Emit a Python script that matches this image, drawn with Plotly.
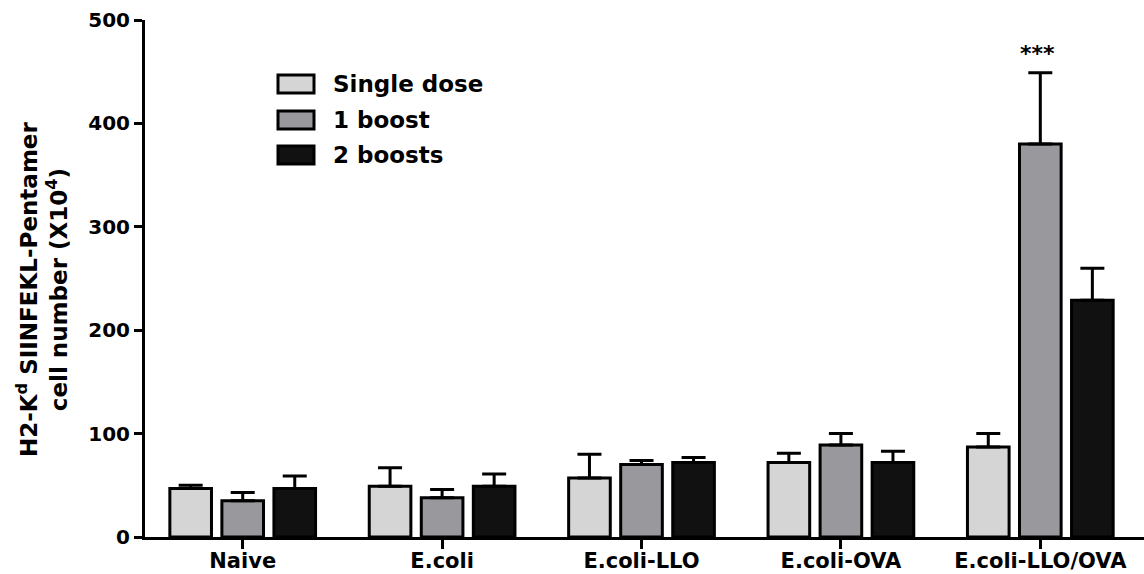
import plotly.graph_objects as go

categories = ["Naive", "E.coli", "E.coli-LLO", "E.coli-OVA", "E.coli-LLO/OVA"]
series_names = ["Single dose", "1 boost", "2 boosts"]
single_dose = [47, 49, 57, 72, 87]
single_dose_err = [50, 67, 80, 81, 100]
one_boost = [35, 38, 70, 89, 380]
one_boost_err = [43, 46, 74, 100, 449]
two_boosts = [47, 49, 72, 72, 229]
two_boosts_err = [59, 61, 77, 83, 260]
y_ticks = [0, 100, 200, 300, 400, 500]
sig_label = "***"
sig_value = 468

colors = ["#d5d5d5", "#99989c", "#111111"]
FONT = "DejaVu Sans, Liberation Sans, Arial, sans-serif"

W, H = 1144, 574
L, R, T, B = 145, 0, 20, 37
PW, PH = W - L - R, H - T - B

def px_x(px):
    return (px - L) / PW

def px_y(py):
    return (H - B - py) / PH

fig = go.Figure()
values = [single_dose, one_boost, two_boosts]
errs = [single_dose_err, one_boost_err, two_boosts_err]
for name, v, e, c in zip(series_names, values, errs, colors):
    fig.add_trace(go.Bar(
        x=categories, y=v, name=name,
        marker=dict(color=c, line=dict(color="black", width=3)),
        error_y=dict(type="data", symmetric=False,
                     array=[ee - vv for ee, vv in zip(e, v)],
                     arrayminus=[0] * len(v),
                     color="black", thickness=3, width=12),
        showlegend=False,
    ))

# significance marker
fig.add_annotation(x=categories[4], y=sig_value, text=sig_label, showarrow=False,
                   font=dict(family=FONT, size=22, color="black", weight="bold"),
                   yanchor="middle", xanchor="center", xshift=-3)

# manual legend
box_tops = [75, 111, 146]
for name, c, top in zip(series_names, colors, box_tops):
    fig.add_shape(type="rect", xref="paper", yref="paper",
                  x0=px_x(278), x1=px_x(314), y0=px_y(top + 18), y1=px_y(top),
                  fillcolor=c, line=dict(color="black", width=3))
    fig.add_annotation(xref="paper", yref="paper", x=px_x(331), y=px_y(top + 9),
                       text=name, showarrow=False, xanchor="left", yanchor="middle",
                       font=dict(family=FONT, size=23, color="black", weight="bold"))

# y-axis title
fig.add_annotation(xref="paper", yref="paper", x=px_x(42), y=px_y(290),
                   text="H2-K<sup>d</sup> SIINFEKL-Pentamer<br>cell number (X10<sup>4</sup>)",
                   textangle=-90, showarrow=False, xanchor="center", yanchor="middle",
                   font=dict(family=FONT, size=23, color="black", weight="bold"))

fig.update_layout(
    width=W, height=H,
    margin=dict(l=L, r=R, t=T, b=B, autoexpand=False),
    paper_bgcolor="white", plot_bgcolor="white",
    barmode="group", bargap=0.217, bargroupgap=0.2,
    font=dict(family=FONT, color="black"),
)
fig.update_xaxes(
    type="category", range=[-0.49, 4.52],
    showline=True, linecolor="black", linewidth=3,
    ticks="outside", ticklen=9, tickwidth=3, tickcolor="black",
    ticklabelstandoff=-6,
    showgrid=False, zeroline=False, automargin=False,
    tickfont=dict(family=FONT, size=21, color="black", weight="bold"),
)
fig.update_yaxes(
    range=[0, 500], tickvals=y_ticks,
    showline=True, linecolor="black", linewidth=3,
    ticks="outside", ticklen=8, tickwidth=3, tickcolor="black",
    showgrid=False, zeroline=False, automargin=False,
    tickfont=dict(family=FONT, size=20, color="black", weight="bold"),
)

fig.write_html("out.html")
